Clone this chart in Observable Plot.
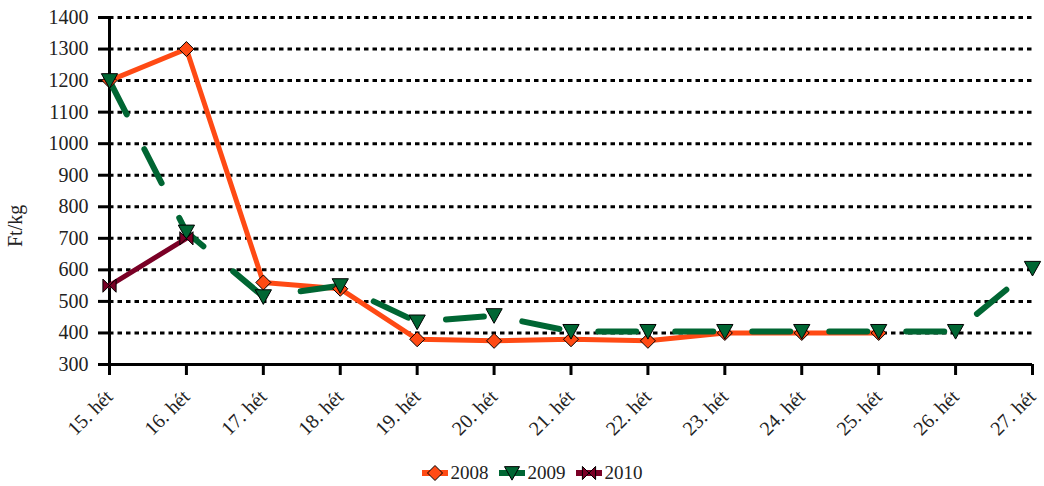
<!DOCTYPE html>
<html><head><meta charset="utf-8">
<script src="https://cdn.jsdelivr.net/npm/d3@7"></script>
<script src="https://cdn.jsdelivr.net/npm/@observablehq/plot@0.6"></script>
<style>
html,body{margin:0;background:#fff;font-family:"Liberation Serif",serif;overflow:hidden}
#chart svg{display:block}
#legend{display:flex;justify-content:center;align-items:center;height:26px;font-size:19px;color:#222;padding-left:20px}
#legend .it{display:flex;align-items:center;margin:0 5px}
#legend svg{margin-right:3px}
#chart svg text{font-size:20px;fill:#222;font-family:"Liberation Serif",serif}
</style></head><body>
<div id="chart"></div>
<div id="legend"></div>
<script>
const weeks = ["15. hét","16. hét","17. hét","18. hét","19. hét","20. hét","21. hét","22. hét","23. hét","24. hét","25. hét","26. hét","27. hét"];
const y2008 = [1200,1300,560,540,380,375,380,375,400,400,400,null,null];
const y2009 = [1200,720,515,550,435,455,405,405,405,405,405,405,605];
const y2010 = [550,700,null,null,null,null,null,null,null,null,null,null,null];
const yTicks = [300,400,500,600,700,800,900,1000,1100,1200,1300,1400];
const gridTicks = [400,500,600,700,800,900,1000,1100,1200,1300,1400];
const seriesNames = ["2008","2009","2010"];
const colors = {"2008":"#FF4A14","2009":"#006633","2010":"#7A0026"};

const rows = [];
[y2008,y2009,y2010].forEach((arr,i)=>arr.forEach((v,j)=>{ if(v!=null) rows.push({week:weeks[j], value:v, series:seriesNames[i]}); }));

const diamond = {draw(ctx,size){const r=Math.sqrt(size/Math.PI)*1.25; ctx.moveTo(0,-r);ctx.lineTo(r,0);ctx.lineTo(0,r);ctx.lineTo(-r,0);ctx.closePath();}};
const triDown = {draw(ctx,size){const r=Math.sqrt(size/Math.PI)*1.25; ctx.moveTo(-r,-r*0.85);ctx.lineTo(r,-r*0.85);ctx.lineTo(0,r*0.95);ctx.closePath();}};
const bowtie = {draw(ctx,size){const r=Math.sqrt(size/Math.PI)*1.1; ctx.moveTo(-r,-r);ctx.lineTo(r,r);ctx.lineTo(r,-r);ctx.lineTo(-r,r);ctx.closePath();}};
const symbols = {"2008":diamond,"2009":triDown,"2010":bowtie};

const chart = Plot.plot({
  width:1044, height:460,
  marginLeft:109, marginRight:12, marginTop:17, marginBottom:96,
  style:{fontFamily:"Liberation Serif, serif", fontSize:"20px", color:"#222", background:"#fff"},
  x:{type:"point", domain:weeks, padding:0, round:false},
  y:{domain:[300,1400]},
  marks:[
    Plot.ruleY(gridTicks,{stroke:"#000", strokeWidth:3, strokeDasharray:"4.5,4"}),
    Plot.axisY({ticks:yTicks, tickFormat:d=>String(d), tickSize:11, tickPadding:10, stroke:"#000", strokeWidth:3, fontSize:20, label:null}),
    Plot.axisX({tickSize:11, tickPadding:18, tickRotate:-45, stroke:"#000", strokeWidth:3, fontSize:20, label:null}),
    Plot.text(["Ft/kg"],{frameAnchor:"left", dx:-94, dy:56, rotate:-90, fontSize:21, fill:"#222"}),
    Plot.ruleY([300],{stroke:"#000", strokeWidth:3}),
    Plot.ruleX([weeks[0]],{y1:300,y2:1400, stroke:"#000", strokeWidth:3}),
    Plot.line(rows.filter(d=>d.series==="2008"),{x:"week",y:"value",stroke:colors["2008"],strokeWidth:5}),
    Plot.line(rows.filter(d=>d.series==="2009"),{x:"week",y:"value",stroke:colors["2009"],strokeWidth:6,strokeDasharray:"38,39"}),
    Plot.line(rows.filter(d=>d.series==="2010"),{x:"week",y:"value",stroke:colors["2010"],strokeWidth:5}),
    Plot.dot(rows.filter(d=>d.series==="2008"),{x:"week",y:"value",symbol:()=>diamond,r:6,fill:colors["2008"],stroke:"#000",strokeWidth:1}),
    Plot.dot(rows.filter(d=>d.series==="2009"),{x:"week",y:"value",symbol:()=>triDown,r:6.5,fill:colors["2009"],stroke:"#000",strokeWidth:1}),
    Plot.dot(rows.filter(d=>d.series==="2010"),{x:"week",y:"value",symbol:()=>bowtie,r:6,fill:colors["2010"],stroke:"#000",strokeWidth:1})
  ]
});
document.getElementById("chart").appendChild(chart);

// legend
const leg = d3.select("#legend");
seriesNames.forEach(s=>{
  const it = leg.append("div").attr("class","it");
  const sv = it.append("svg").attr("width",26).attr("height",16);
  sv.append("rect").attr("x",0).attr("y",5).attr("width",26).attr("height",6).attr("fill",colors[s]);
  sv.append("path").attr("transform","translate(13,8)").attr("d",d3.symbol().type(symbols[s]).size(Math.PI*36)()).attr("fill",colors[s]).attr("stroke","#000").attr("stroke-width",1);
  it.append("span").text(s);
});
</script>
</body></html>
